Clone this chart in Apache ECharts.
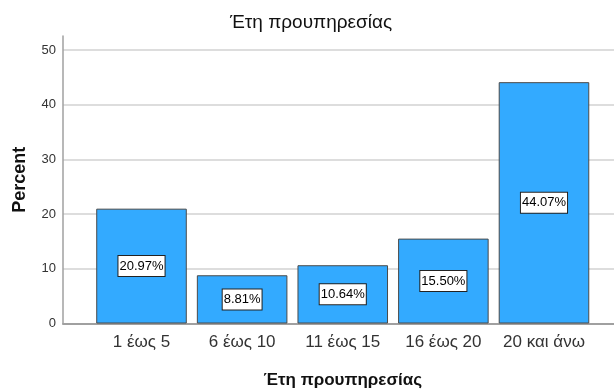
<!DOCTYPE html>
<html>
<head>
<meta charset="utf-8">
<script src="https://cdn.jsdelivr.net/npm/echarts@6/dist/echarts.min.js"></script>
<style>html,body{margin:0;padding:0;background:#fff}#c{width:614px;height:392px}</style>
</head>
<body>
<div id="c"></div>
<script>
const titleText = 'Έτη προυπηρεσίας';
const categories = ['1 έως 5', '6 έως 10', '11 έως 15', '16 έως 20', '20 και άνω'];
const percents = [20.97, 8.81, 10.64, 15.50, 44.07];
const yMin = 0, yMax = 50, yInterval = 10;

const FONT = "'Liberation Sans', Arial, sans-serif";

const chart = echarts.init(document.getElementById('c'), null, {renderer: 'canvas'});
chart.setOption({
  animation: false,
  backgroundColor: '#ffffff',
  title: {
    text: titleText,
    left: 311, top: 13, textAlign: 'center', padding: 0,
    textStyle: {fontFamily: FONT, fontSize: 19, fontWeight: 'normal', color: '#111'}
  },
  grid: [
    {left: 63, right: 0, top: 50, bottom: 68.5, outerBoundsMode: 'none', containLabel: false},
    {left: 91.2, right: 19.7, top: 36, bottom: 68.5, outerBoundsMode: 'none', containLabel: false}
  ],
  xAxis: [
    {
      gridIndex: 0, type: 'value', min: 0, max: 1,
      axisLine: {show: true, lineStyle: {color: '#a0a0a0', width: 2}},
      axisTick: {show: false}, axisLabel: {show: false}, splitLine: {show: false}
    },
    {
      gridIndex: 1, type: 'category', data: categories,
      axisLine: {show: false}, axisTick: {show: false},
      axisLabel: {interval: 0, margin: 10, fontFamily: FONT, fontSize: 17, color: '#333'},
      name: titleText, nameLocation: 'middle', nameGap: 48,
      nameTextStyle: {fontFamily: FONT, fontSize: 17, fontWeight: 'bold', color: '#111'}
    }
  ],
  yAxis: [
    {
      gridIndex: 0, type: 'value', min: yMin, max: yMax, interval: yInterval,
      axisLine: {show: false}, axisTick: {show: false},
      axisLabel: {margin: 7, fontFamily: FONT, fontSize: 13, color: '#333'},
      splitLine: {show: true, lineStyle: {color: '#d2d2d2', width: 1.5}}
    },
    {
      gridIndex: 1, type: 'value', min: 0, max: 52.5, offset: 28.2,
      axisLine: {show: true, lineStyle: {color: '#a0a0a0', width: 1.5}},
      axisTick: {show: false}, axisLabel: {show: false}, splitLine: {show: false},
      name: 'Percent', nameLocation: 'middle', nameGap: 34, nameRotate: 90,
      nameTextStyle: {fontFamily: FONT, fontSize: 18, fontWeight: 'bold', color: '#111'}
    }
  ],
  series: [{
    type: 'bar',
    xAxisIndex: 1, yAxisIndex: 1,
    data: percents,
    barCategoryGap: '10%',
    itemStyle: {color: '#33aaff', borderColor: '#4a4a4a', borderWidth: 1},
    label: {
      show: true, position: 'inside',
      formatter: p => p.value.toFixed(2) + '%',
      fontFamily: FONT, fontSize: 13, color: '#000',
      backgroundColor: '#ffffff', borderColor: '#222', borderWidth: 1,
      padding: [4, 1, 3, 1]
    }
  }]
});
</script>
</body>
</html>
